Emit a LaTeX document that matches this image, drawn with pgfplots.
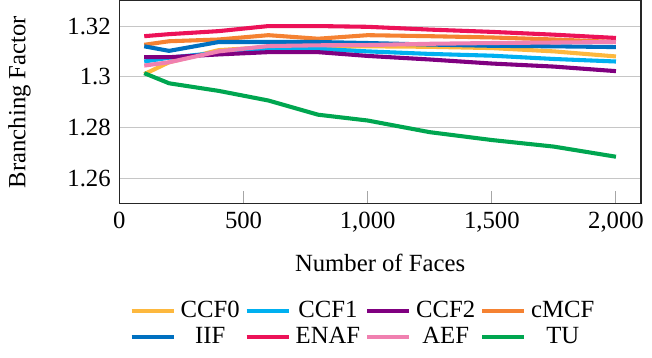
\documentclass[border=0pt]{standalone}
\usepackage{fontspec}
\setmainfont{Liberation Serif}
\usepackage{pgfplots}
\pgfplotsset{compat=1.18}
\definecolor{cA}{RGB}{253,184,62}
\definecolor{cB}{RGB}{0,176,240}
\definecolor{cC}{RGB}{128,0,128}
\definecolor{cD}{RGB}{245,130,50}
\definecolor{cE}{RGB}{0,112,192}
\definecolor{cF}{RGB}{236,18,88}
\definecolor{cG}{RGB}{240,128,176}
\definecolor{cH}{RGB}{0,166,80}
\begin{document}
\begin{tikzpicture}
\begin{axis}[
  scale only axis,
  width=211pt, height=82pt,
  xmin=0, xmax=2100, ymin=1.25, ymax=1.33,
  xtick={0,500,1000,1500,2000},
  ytick={1.26,1.28,1.30,1.32},
  /pgf/number format/assume math mode=true,
  xtick pos=lower, tick align=inside,
  major tick length=5pt,
  xtick style={gray!70, thin},
  ytick style={draw=none},
  ymajorgrids, grid style={gray!45, thin},
  axis line style={black!85, semithick},
  xlabel={Number of Faces}, ylabel={Branching Factor},
  xlabel style={yshift=-2pt},
  ylabel style={yshift=8pt},
  every axis plot/.append style={line width=1.65pt, line join=round},
  legend columns=4,
  legend cell align=center,
  legend style={draw=none, at={(0.47,-0.43)}, anchor=north, font=\normalsize,
    /tikz/every even column/.append style={column sep=0pt},
    row sep=-1.5pt},
  legend image code/.code={\draw[#1, line width=1.65pt] (0pt,0pt) -- (17pt,0pt);},
]
\addplot[cA] coordinates {(100,1.301)(200,1.3057)(400,1.3105)(600,1.3117)(800,1.3118)(1000,1.312)(1250,1.3118)(1500,1.3113)(1750,1.310)(2000,1.308)};
\addlegendentry{CCF0}
\addplot[cB] coordinates {(100,1.306)(200,1.3075)(400,1.3095)(600,1.311)(800,1.311)(1000,1.310)(1250,1.309)(1500,1.3083)(1750,1.307)(2000,1.306)};
\addlegendentry{CCF1}
\addplot[cC] coordinates {(100,1.3077)(200,1.3077)(400,1.3088)(600,1.3097)(800,1.3097)(1000,1.3082)(1250,1.3068)(1500,1.3052)(1750,1.304)(2000,1.3022)};
\addlegendentry{CCF2}
\addplot[cD] coordinates {(100,1.3126)(200,1.314)(400,1.3147)(600,1.3164)(800,1.315)(1000,1.3164)(1250,1.316)(1500,1.3155)(1750,1.3147)(2000,1.3137)};
\addlegendentry{cMCF}
\addplot[cE] coordinates {(100,1.312)(200,1.3102)(400,1.3137)(600,1.3137)(800,1.3137)(1000,1.3133)(1250,1.3127)(1500,1.3122)(1750,1.312)(2000,1.3117)};
\addlegendentry{IIF}
\addplot[cF] coordinates {(100,1.316)(200,1.3168)(400,1.318)(600,1.320)(800,1.320)(1000,1.3197)(1250,1.3186)(1500,1.3177)(1750,1.3166)(2000,1.3153)};
\addlegendentry{ENAF}
\addplot[cG] coordinates {(100,1.3044)(200,1.3057)(400,1.310)(600,1.3121)(800,1.3124)(1000,1.3125)(1250,1.313)(1500,1.3133)(1750,1.3135)(2000,1.3137)};
\addlegendentry{AEF}
\addplot[cH] coordinates {(100,1.3014)(200,1.2974)(400,1.2944)(600,1.2906)(800,1.285)(1000,1.2827)(1250,1.2781)(1500,1.275)(1750,1.2724)(2000,1.2684)};
\addlegendentry{TU}
\end{axis}
\end{tikzpicture}
\end{document}
